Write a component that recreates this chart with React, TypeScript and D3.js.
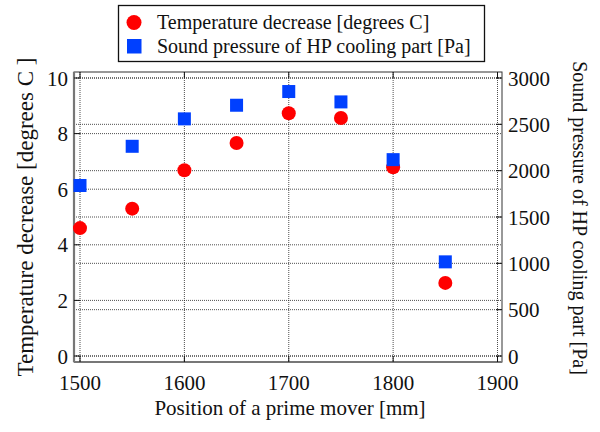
import React from 'react';
import * as d3 from 'd3';

// positions of the prime mover [mm]
const positions = [1500, 1550, 1600, 1650, 1700, 1750, 1800, 1850];
// temperature decrease [degrees C]
const tempDecrease = [4.6, 5.3, 6.68, 7.66, 8.73, 8.56, 6.79, 2.63];
// sound pressure of HP cooling part [Pa]
const soundPressure = [1840, 2263, 2559, 2706, 2854, 2742, 2119, 1016];

const xTicks = [1500, 1600, 1700, 1800, 1900];
const leftTicks = [0, 2, 4, 6, 8, 10];
const rightTicks = [0, 500, 1000, 1500, 2000, 2500, 3000];

const FONT = 'Liberation Serif';
const RED = '#ff0000';
const BLUE = '#0040ff';

// plot frame
const frame = { left: 74, right: 502, top: 72, bottom: 362 };

const x = d3.scaleLinear().domain([1500, 1900]).range([80, 497.5]);
const yL = d3.scaleLinear().domain([0, 10]).range([356, 78]);
const yR = d3.scaleLinear().domain([0, 3000]).range([356, 78]);

// every text element carries its own font
const T = ({ size, children, ...rest }) => (
  <text fontFamily={FONT} fontSize={size} fill="#111" {...rest}>
    {children}
  </text>
);

const App = () => {
  const gridY = [...leftTicks.map(t => yL(t)), ...rightTicks.map(t => yR(t))];

  return (
    <svg
      width={600}
      height={432}
      style={{ position: 'absolute', left: 0, top: 0, background: 'white', fontFamily: 'serif' }}
    >
      {/* grid lines */}
      <g stroke="#222" strokeWidth={0.8} strokeDasharray="1,1">
        {xTicks.map(t => (
          <line key={'gx' + t} x1={x(t)} x2={x(t)} y1={frame.top} y2={frame.bottom} />
        ))}
        {gridY.map((y, i) => (
          <line key={'gy' + i} x1={frame.left} x2={frame.right} y1={y} y2={y} />
        ))}
      </g>

      {/* frame */}
      <rect
        x={frame.left}
        y={frame.top}
        width={frame.right - frame.left}
        height={frame.bottom - frame.top}
        fill="none"
        stroke="#333"
      />
      <line x1={frame.left} x2={frame.left} y1={frame.top} y2={frame.bottom} stroke="#777" strokeWidth={2.2} />
      <line x1={frame.left} x2={frame.right} y1={frame.bottom} y2={frame.bottom} stroke="#777" strokeWidth={2.2} />

      {/* inward ticks */}
      <g stroke="#111">
        {xTicks.map(t => (
          <g key={'tx' + t}>
            <line x1={x(t)} x2={x(t)} y1={frame.bottom} y2={frame.bottom - 6} />
            <line x1={x(t)} x2={x(t)} y1={frame.top} y2={frame.top + 6} />
          </g>
        ))}
        {leftTicks.map(t => (
          <line key={'tl' + t} x1={frame.left} x2={frame.left + 6} y1={yL(t)} y2={yL(t)} />
        ))}
        {rightTicks.map(t => (
          <line key={'tr' + t} x1={frame.right} x2={frame.right - 6} y1={yR(t)} y2={yR(t)} />
        ))}
      </g>

      {/* tick labels */}
      {xTicks.map(t => (
        <T key={'lx' + t} size={21} x={x(t)} y={390} textAnchor="middle">{t}</T>
      ))}
      {leftTicks.map(t => (
        <T key={'ll' + t} size={21} x={68} y={yL(t) + 7.5} textAnchor="end">{t}</T>
      ))}
      {rightTicks.map(t => (
        <T key={'lr' + t} size={21} x={508} y={yR(t) + 7.5}>{t}</T>
      ))}

      {/* axis titles */}
      <T size={21} x={290} y={415} textAnchor="middle">Position of a prime mover [mm]</T>
      <T size={23} transform="translate(33,217) rotate(-90)" textAnchor="middle">
        Temperature decrease [degrees C ]
      </T>
      <T size={20} transform="translate(573,218) rotate(90)" textAnchor="middle">
        Sound pressure of HP cooling part [Pa]
      </T>

      {/* temperature markers */}
      {positions.map((p, i) => (
        <circle key={'c' + p} cx={x(p)} cy={yL(tempDecrease[i])} r={7} fill={RED} />
      ))}

      {/* sound pressure markers */}
      {positions.map((p, i) => (
        <rect
          key={'s' + p}
          x={x(p) - 6.5}
          y={yR(soundPressure[i]) - 6.5}
          width={13}
          height={13}
          fill={BLUE}
        />
      ))}

      {/* legend */}
      <rect x={118.5} y={5.5} width={366} height={56} fill="white" stroke="#111" strokeWidth={1.3} />
      <circle cx={134} cy={22.5} r={7.5} fill={RED} />
      <T size={20} x={157} y={28.5}>Temperature decrease [degrees C]</T>
      <rect x={127} y={39} width={14.5} height={14.5} fill={BLUE} />
      <T size={20} x={157} y={52.5}>Sound pressure of HP cooling part [Pa]</T>
    </svg>
  );
};

export default App;
